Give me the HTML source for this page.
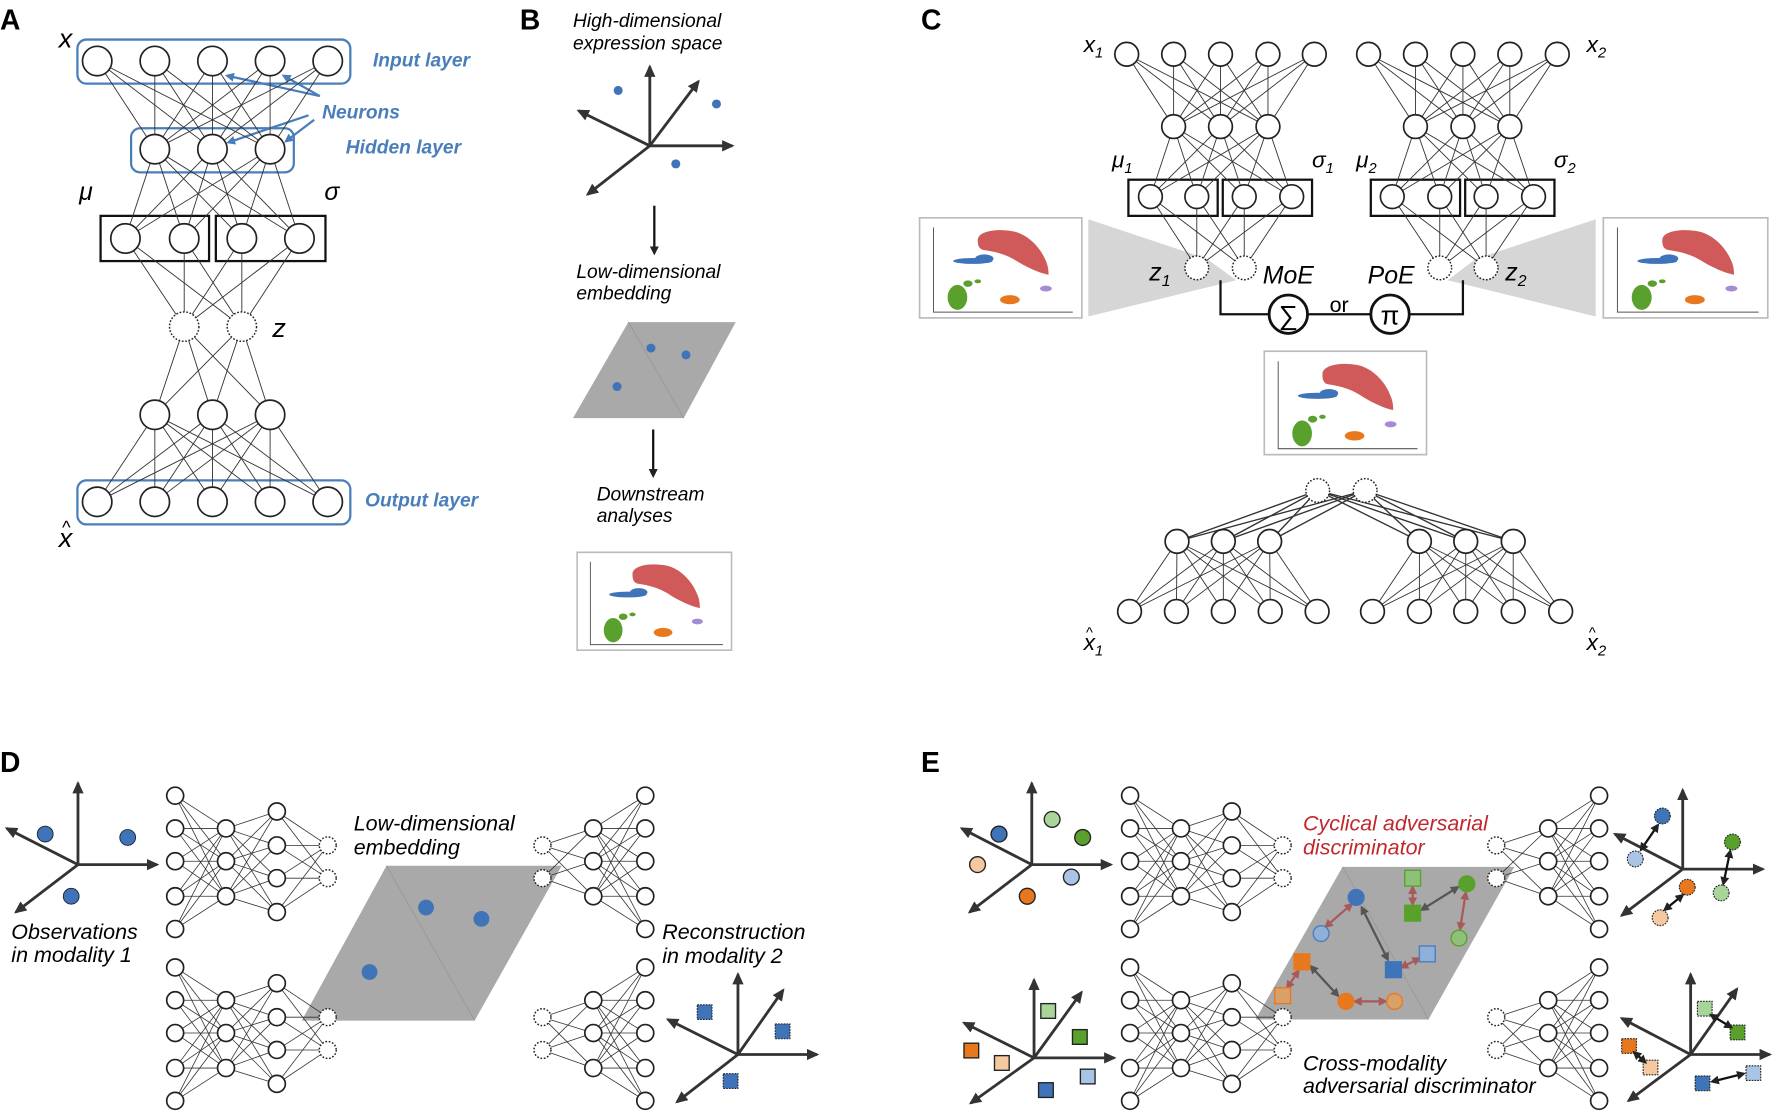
<!DOCTYPE html>
<html><head><meta charset="utf-8"><style>
html,body{margin:0;padding:0;background:#fff;}
svg{display:block;}
text{font-family:"Liberation Sans",Arial,sans-serif;}
.it{font-style:italic;}
.bl{fill:#4a7ebb;font-weight:bold;font-style:italic;font-size:17px;}
.pl{font-weight:bold;font-size:25px;}
</style></head><body>
<svg id="s" xmlns="http://www.w3.org/2000/svg" width="1772" height="1111" viewBox="0 0 1568 983" preserveAspectRatio="none">
<defs>
<marker id="ah" markerUnits="userSpaceOnUse" markerWidth="12" markerHeight="10" refX="9" refY="5" orient="auto-start-reverse"><path d="M0,0 L11,5 L0,10 z" fill="#333"/></marker>
<marker id="ahs" markerUnits="userSpaceOnUse" markerWidth="8" markerHeight="8" refX="6" refY="4" orient="auto-start-reverse"><path d="M0,0 L8,4 L0,8 z" fill="#222"/></marker>
<marker id="ahr" markerUnits="userSpaceOnUse" markerWidth="8" markerHeight="8" refX="6" refY="4" orient="auto-start-reverse"><path d="M0,0 L8,4 L0,8 z" fill="#a85a5a"/></marker>
<marker id="ahg" markerUnits="userSpaceOnUse" markerWidth="8" markerHeight="8" refX="6" refY="4" orient="auto-start-reverse"><path d="M0,0 L8,4 L0,8 z" fill="#555"/></marker>
<marker id="ahb" markerUnits="userSpaceOnUse" markerWidth="8" markerHeight="8" refX="6" refY="4" orient="auto-start-reverse"><path d="M0,0 L8,4 L0,8 z" fill="#4a7ebb"/></marker>
<symbol id="umap" viewBox="0 0 500 310" preserveAspectRatio="none">
<rect x="0" y="0" width="500" height="310" fill="#fff" stroke="#bbb" stroke-width="10"/>
<path d="M45,32 L45,290 L470,290" fill="none" stroke="#555" stroke-width="3"/>
<path d="M180,72 C178,42 240,34 290,44 C335,54 372,95 386,130 C396,150 396,168 396,176 C372,172 332,155 300,135 C262,110 222,104 196,100 C182,96 180,84 180,72Z" fill="#d05a5a"/>
<ellipse cx="165" cy="134" rx="60" ry="9" fill="#3f74b8"/>
<ellipse cx="200" cy="127" rx="28" ry="13" fill="#3f74b8"/>
<ellipse cx="118" cy="245" rx="30" ry="38" fill="#5aa02c"/>
<ellipse cx="150" cy="203" rx="14" ry="10" fill="#5aa02c"/>
<ellipse cx="180" cy="196" rx="10" ry="6" fill="#5aa02c"/>
<ellipse cx="278" cy="252" rx="30" ry="14" fill="#e8781e"/>
<ellipse cx="388" cy="218" rx="18" ry="9" fill="#a58ad6"/>
</symbol>
</defs>

<!-- Panel letters -->
<text class="pl" x="0" y="26">A</text>
<text class="pl" x="460" y="26">B</text>
<text class="pl" x="815" y="26">C</text>
<text class="pl" x="0" y="683">D</text>
<text class="pl" x="815" y="683">E</text>

<!-- Panel A boxes and labels -->
<rect x="68.5" y="35" width="241.5" height="39" rx="8" fill="none" stroke="#4a7ebb" stroke-width="2"/>
<rect x="116" y="113.5" width="144" height="39" rx="8" fill="none" stroke="#4a7ebb" stroke-width="2"/>
<rect x="68.5" y="425" width="241.5" height="39" rx="8" fill="none" stroke="#4a7ebb" stroke-width="2"/>
<rect x="89" y="191" width="96" height="40" fill="none" stroke="#111" stroke-width="2"/>
<rect x="191" y="191" width="97" height="40" fill="none" stroke="#111" stroke-width="2"/>
<text class="bl" x="330" y="59">Input layer</text>
<text class="bl" x="285" y="105">Neurons</text>
<text class="bl" x="306" y="136">Hidden layer</text>
<text class="bl" x="323" y="448">Output layer</text>
<g stroke="#4a7ebb" stroke-width="2" fill="none">
<line x1="283" y1="85" x2="201" y2="67" marker-end="url(#ahb)"/>
<line x1="283" y1="85" x2="251" y2="67" marker-end="url(#ahb)"/>
<line x1="273" y1="102" x2="202" y2="126" marker-end="url(#ahb)"/>
<line x1="278" y1="106" x2="253" y2="125" marker-end="url(#ahb)"/>
</g>
<text class="it" x="52" y="42" font-size="24">x</text>
<text class="it" x="52" y="484" font-size="24">x</text>
<text x="55" y="472" font-size="16">^</text>
<text class="it" x="70" y="177" font-size="22">μ</text>
<text class="it" x="287" y="177" font-size="22">σ</text>
<text class="it" x="241" y="298" font-size="24">z</text>

<!-- Panel B -->
<text class="it" x="507" y="24" font-size="17">High-dimensional</text>
<text class="it" x="507" y="44" font-size="17">expression space</text>
<g stroke="#333" stroke-width="2.5" fill="none">
<line x1="575" y1="129" x2="575" y2="59" marker-end="url(#ah)"/>
<line x1="575" y1="129" x2="648" y2="129" marker-end="url(#ah)"/>
<line x1="575" y1="129" x2="618" y2="72" marker-end="url(#ah)"/>
<line x1="575" y1="129" x2="512" y2="98" marker-end="url(#ah)"/>
<line x1="575" y1="129" x2="520" y2="172" marker-end="url(#ah)"/>
</g>
<g fill="#3f74b8"><circle cx="547" cy="80" r="4"/><circle cx="634" cy="92" r="4"/><circle cx="598" cy="145" r="4"/></g>
<line x1="579" y1="182" x2="579" y2="224" stroke="#111" stroke-width="2" marker-end="url(#ahs)"/>
<text class="it" x="510" y="246" font-size="17">Low-dimensional</text>
<text class="it" x="510" y="265" font-size="17">embedding</text>
<polygon points="556,285 651,285 605,370 507,370" fill="#a9a9a9"/>
<line x1="556" y1="285" x2="605" y2="370" stroke="#999" stroke-width="0.8"/>
<g fill="#3f74b8"><circle cx="576" cy="308" r="4"/><circle cx="607" cy="314" r="4"/><circle cx="546" cy="342" r="4"/></g>
<line x1="578" y1="380" x2="578" y2="421" stroke="#111" stroke-width="2" marker-end="url(#ahs)"/>
<text class="it" x="528" y="443" font-size="17">Downstream</text>
<text class="it" x="528" y="462" font-size="17">analyses</text>
<use href="#umap" x="510" y="488" width="138" height="88"/>

<!-- Panel C extras -->
<polygon points="963,194 1068,229 1094,248 963,280" fill="#d6d6d6"/>
<polygon points="1412,194 1306,229 1281,248 1412,280" fill="#d6d6d6"/>
<use href="#umap" x="813" y="192" width="145" height="90"/>
<use href="#umap" x="1418" y="192" width="147" height="90"/>
<use href="#umap" x="1118" y="310" width="145" height="93"/>
<rect x="998.5" y="159" width="79" height="32" fill="none" stroke="#111" stroke-width="2"/>
<rect x="1082" y="159" width="79" height="32" fill="none" stroke="#111" stroke-width="2"/>
<rect x="1213" y="159" width="79" height="32" fill="none" stroke="#111" stroke-width="2"/>
<rect x="1296.5" y="159" width="79" height="32" fill="none" stroke="#111" stroke-width="2"/>
<path d="M1080,248 L1080,278 L1123,278 M1157,278 L1213,278 M1247,278 L1294.5,278 L1294.5,248" fill="none" stroke="#111" stroke-width="2"/>
<circle cx="1140" cy="278" r="17" fill="#fff" stroke="#111" stroke-width="2.5"/>
<circle cx="1230" cy="278" r="17" fill="#fff" stroke="#111" stroke-width="2.5"/>
<text x="1140" y="287" font-size="24" text-anchor="middle">∑</text>
<text x="1230" y="287" font-size="24" text-anchor="middle">π</text>
<text x="1185" y="276" font-size="19" text-anchor="middle">or</text>
<text class="it" x="1140" y="251" font-size="22" text-anchor="middle">MoE</text>
<text class="it" x="1231" y="251" font-size="22" text-anchor="middle">PoE</text>
<text class="it" x="959" y="46" font-size="20">x<tspan font-size="13" dy="5">1</tspan></text>
<text class="it" x="1404" y="46" font-size="20">x<tspan font-size="13" dy="5">2</tspan></text>
<text class="it" x="984" y="148" font-size="20">μ<tspan font-size="13" dy="5">1</tspan></text>
<text class="it" x="1161" y="148" font-size="20">σ<tspan font-size="13" dy="5">1</tspan></text>
<text class="it" x="1200" y="148" font-size="20">μ<tspan font-size="13" dy="5">2</tspan></text>
<text class="it" x="1375" y="148" font-size="20">σ<tspan font-size="13" dy="5">2</tspan></text>
<text class="it" x="1017" y="248" font-size="22">z<tspan font-size="14" dy="5">1</tspan></text>
<text class="it" x="1332" y="248" font-size="22">z<tspan font-size="14" dy="5">2</tspan></text>
<text class="it" x="959" y="575" font-size="20">x<tspan font-size="13" dy="5">1</tspan></text>
<text x="961" y="564" font-size="13">^</text>
<text class="it" x="1404" y="575" font-size="20">x<tspan font-size="13" dy="5">2</tspan></text>
<text x="1406" y="564" font-size="13">^</text>

<!-- Panel D -->
<g stroke="#333" stroke-width="2.5" fill="none">
<line x1="69" y1="765" x2="69" y2="693" marker-end="url(#ah)"/>
<line x1="69" y1="765" x2="139" y2="765" marker-end="url(#ah)"/>
<line x1="69" y1="765" x2="6" y2="733" marker-end="url(#ah)"/>
<line x1="69" y1="765" x2="14" y2="807" marker-end="url(#ah)"/>
<line x1="653" y1="933" x2="653" y2="862" marker-end="url(#ah)"/>
<line x1="653" y1="933" x2="723" y2="933" marker-end="url(#ah)"/>
<line x1="653" y1="933" x2="693" y2="876" marker-end="url(#ah)"/>
<line x1="653" y1="933" x2="591" y2="902" marker-end="url(#ah)"/>
<line x1="653" y1="933" x2="599" y2="975" marker-end="url(#ah)"/>
</g>
<g fill="#3f74b8" stroke="#223" stroke-width="0.8"><ellipse cx="40" cy="738" rx="7" ry="7"/><ellipse cx="113" cy="741" rx="7" ry="7"/><ellipse cx="63" cy="793" rx="7" ry="7"/></g>
<g fill="#3f74b8" stroke="#223" stroke-width="1" stroke-dasharray="1.5,1"><rect x="617" y="889" width="13" height="13"/><rect x="686" y="906" width="13" height="13"/><rect x="640" y="950" width="13" height="13"/></g>
<polygon points="342,766 497,766 420,903 267,903" fill="#a9a9a9"/>
<line x1="342" y1="766" x2="420" y2="903" stroke="#999" stroke-width="0.8"/>
<g fill="#3f74b8"><ellipse cx="377" cy="803" rx="7" ry="7"/><ellipse cx="426" cy="813" rx="7" ry="7"/><ellipse cx="327" cy="860" rx="7" ry="7"/></g>
<text class="it" x="313" y="735" font-size="19">Low-dimensional</text>
<text class="it" x="313" y="756" font-size="19">embedding</text>
<text class="it" x="10" y="831" font-size="19">Observations</text>
<text class="it" x="10" y="851" font-size="19">in modality 1</text>
<text class="it" x="586" y="831" font-size="19">Reconstruction</text>
<text class="it" x="586" y="852" font-size="19">in modality 2</text>

<!-- Panel E -->
<g stroke="#333" stroke-width="2.5" fill="none">
<line x1="913" y1="765" x2="913" y2="693" marker-end="url(#ah)"/>
<line x1="913" y1="765" x2="983" y2="765" marker-end="url(#ah)"/>
<line x1="913" y1="765" x2="851" y2="733" marker-end="url(#ah)"/>
<line x1="913" y1="765" x2="858" y2="807" marker-end="url(#ah)"/>
<line x1="915" y1="936" x2="915" y2="867" marker-end="url(#ah)"/>
<line x1="915" y1="936" x2="986" y2="936" marker-end="url(#ah)"/>
<line x1="915" y1="936" x2="957" y2="878" marker-end="url(#ah)"/>
<line x1="915" y1="936" x2="853" y2="905" marker-end="url(#ah)"/>
<line x1="915" y1="936" x2="859" y2="976" marker-end="url(#ah)"/>
<line x1="1489" y1="769" x2="1489" y2="699" marker-end="url(#ah)"/>
<line x1="1489" y1="769" x2="1560" y2="769" marker-end="url(#ah)"/>
<line x1="1489" y1="769" x2="1429" y2="738" marker-end="url(#ah)"/>
<line x1="1489" y1="769" x2="1435" y2="810" marker-end="url(#ah)"/>
<line x1="1496" y1="933" x2="1496" y2="862" marker-end="url(#ah)"/>
<line x1="1496" y1="933" x2="1566" y2="933" marker-end="url(#ah)"/>
<line x1="1496" y1="933" x2="1537" y2="875" marker-end="url(#ah)"/>
<line x1="1496" y1="933" x2="1435" y2="901" marker-end="url(#ah)"/>
<line x1="1496" y1="933" x2="1441" y2="974" marker-end="url(#ah)"/>
</g>
<g stroke="#222" stroke-width="1.2">
<circle cx="931" cy="725" r="7" fill="#a9d59a"/><circle cx="884" cy="738" r="7" fill="#3f74b8"/>
<circle cx="958" cy="741" r="7" fill="#5aa02c"/><circle cx="865" cy="765" r="7" fill="#f5c9a0"/>
<circle cx="948" cy="776" r="7" fill="#a9c4e4"/><circle cx="909" cy="793" r="7" fill="#e8781e"/>
<rect x="921" y="888" width="13" height="13" fill="#a9d59a"/><rect x="949" y="911" width="13" height="13" fill="#5aa02c"/>
<rect x="853" y="923" width="13" height="13" fill="#e8781e"/><rect x="880" y="934" width="13" height="13" fill="#f5c9a0"/>
<rect x="956" y="946" width="13" height="13" fill="#a9c4e4"/><rect x="919" y="958" width="13" height="13" fill="#3f74b8"/>
</g>
<g stroke="#222" stroke-width="1" stroke-dasharray="1.5,1">
<circle cx="1471" cy="722" r="7" fill="#3f74b8"/><circle cx="1447" cy="760" r="7" fill="#a9c4e4"/>
<circle cx="1533" cy="745" r="7" fill="#5aa02c"/><circle cx="1523" cy="790" r="7" fill="#a9d59a"/>
<circle cx="1493" cy="785" r="7" fill="#e8781e"/><circle cx="1469" cy="812" r="7" fill="#f5c9a0"/>
<rect x="1502" y="886" width="13" height="13" fill="#a9d59a"/><rect x="1531" y="907" width="13" height="13" fill="#5aa02c"/>
<rect x="1435" y="919" width="13" height="13" fill="#e8781e"/><rect x="1454" y="938" width="13" height="13" fill="#f5c9a0"/>
<rect x="1500" y="952" width="13" height="13" fill="#3f74b8"/><rect x="1545" y="943" width="13" height="13" fill="#a9c4e4"/>
</g>
<g stroke="#111" stroke-width="2" fill="none">
<line x1="1467" y1="730" x2="1452" y2="752" marker-start="url(#ahs)" marker-end="url(#ahs)"/>
<line x1="1531" y1="753" x2="1525" y2="782" marker-start="url(#ahs)" marker-end="url(#ahs)"/>
<line x1="1489" y1="792" x2="1473" y2="805" marker-start="url(#ahs)" marker-end="url(#ahs)"/>
<line x1="1514" y1="898" x2="1532" y2="909" marker-start="url(#ahs)" marker-end="url(#ahs)"/>
<line x1="1446" y1="931" x2="1456" y2="940" marker-start="url(#ahs)" marker-end="url(#ahs)"/>
<line x1="1515" y1="957" x2="1543" y2="950" marker-start="url(#ahs)" marker-end="url(#ahs)"/>
</g>
<polygon points="1188,767 1340,767 1264,902 1111,902" fill="#a9a9a9"/>
<line x1="1188" y1="767" x2="1264" y2="902" stroke="#999" stroke-width="0.8"/>
<g stroke-width="2" fill="none">
<line x1="1196" y1="800" x2="1173" y2="820" stroke="#a85a5a" marker-start="url(#ahr)" marker-end="url(#ahr)"/>
<line x1="1250" y1="785" x2="1250" y2="800" stroke="#a85a5a" marker-start="url(#ahr)" marker-end="url(#ahr)"/>
<line x1="1297" y1="790" x2="1292" y2="822" stroke="#a85a5a" marker-start="url(#ahr)" marker-end="url(#ahr)"/>
<line x1="1240" y1="856" x2="1256" y2="848" stroke="#a85a5a" marker-start="url(#ahr)" marker-end="url(#ahr)"/>
<line x1="1149" y1="859" x2="1139" y2="874" stroke="#a85a5a" marker-start="url(#ahr)" marker-end="url(#ahr)"/>
<line x1="1199" y1="886" x2="1226" y2="886" stroke="#a85a5a" marker-start="url(#ahr)" marker-end="url(#ahr)"/>
<line x1="1205" y1="803" x2="1228" y2="849" stroke="#555" marker-start="url(#ahg)" marker-end="url(#ahg)"/>
<line x1="1258" y1="805" x2="1290" y2="785" stroke="#555" marker-start="url(#ahg)" marker-end="url(#ahg)"/>
<line x1="1160" y1="855" x2="1184" y2="881" stroke="#555" marker-start="url(#ahg)" marker-end="url(#ahg)"/>
</g>
<g stroke-width="1.2">
<circle cx="1200" cy="794" r="7" fill="#3f74b8" stroke="#3f74b8"/>
<circle cx="1169" cy="826" r="7" fill="#8fb0d8" stroke="#4a7ebb"/>
<rect x="1243" y="770" width="14" height="14" fill="#8fc07a" stroke="#5aa02c"/>
<rect x="1243" y="801" width="14" height="14" fill="#5aa02c" stroke="#5aa02c"/>
<circle cx="1298" cy="782" r="7" fill="#5aa02c" stroke="#5aa02c"/>
<circle cx="1291" cy="830" r="7" fill="#8fc07a" stroke="#5aa02c"/>
<rect x="1145" y="844" width="14" height="14" fill="#e8781e" stroke="#e8781e"/>
<rect x="1128" y="874" width="14" height="14" fill="#d9a06a" stroke="#e8781e"/>
<rect x="1226" y="851" width="14" height="14" fill="#3f74b8" stroke="#3f74b8"/>
<rect x="1256" y="837" width="14" height="14" fill="#8fb0d8" stroke="#4a7ebb"/>
<circle cx="1191" cy="886" r="7" fill="#e8781e" stroke="#e8781e"/>
<circle cx="1234" cy="886" r="7" fill="#d9a06a" stroke="#e8781e"/>
</g>
<text class="it" x="1153" y="735" font-size="19" fill="#c0282d">Cyclical adversarial</text>
<text class="it" x="1153" y="756" font-size="19" fill="#c0282d">discriminator</text>
<text class="it" x="1153" y="947" font-size="19">Cross-modality</text>
<text class="it" x="1153" y="967" font-size="19">adversarial discriminator</text>
<g id="nets"></g>
</svg>
<script>
(function(){
var NS="http://www.w3.org/2000/svg";
var nets=document.getElementById("nets");
var lg=document.createElementNS(NS,"g"), ng=document.createElementNS(NS,"g");
nets.appendChild(lg);nets.appendChild(ng);
function L(a,b,w){var l=document.createElementNS(NS,"line");l.setAttribute("x1",a[0]);l.setAttribute("y1",a[1]);l.setAttribute("x2",b[0]);l.setAttribute("y2",b[1]);l.setAttribute("stroke","#333");l.setAttribute("stroke-width",w||0.8);lg.appendChild(l);}
function N(p,r,d){var c=document.createElementNS(NS,"circle");c.setAttribute("cx",p[0]);c.setAttribute("cy",p[1]);c.setAttribute("r",r);c.setAttribute("fill","#fff");c.setAttribute("stroke","#222");c.setAttribute("stroke-width",d?1.3:1.5);if(d)c.setAttribute("stroke-dasharray","1.5,1.5");ng.appendChild(c);}
function lay(xs,y){return xs.map(function(x){return [x,y];});}
function col(x,ys){return ys.map(function(y){return [x,y];});}
function full(A,B,w){A.forEach(function(a){B.forEach(function(b){L(a,b,w);});});}
function net(layers,r,dashedIdx,w){for(var i=0;i<layers.length-1;i++)full(layers[i],layers[i+1],w);
 layers.forEach(function(l,i){l.forEach(function(p){N(p,r,dashedIdx.indexOf(i)>=0);});});}
net([lay([86,137,188,239,290],54),lay([137,188,239],132),lay([111,163,214,265],211),lay([163,214],289),lay([137,188,239],367),lay([86,137,188,239,290],444)],13,[3],0.8);
net([lay([997,1038.5,1080,1122,1163],48),lay([1038.5,1080,1122],112),lay([1018,1059,1101,1143],174),lay([1059,1101],237)],10.5,[3],0.8);
net([lay([1211,1252.5,1294.5,1336,1378],48),lay([1252.5,1294.5,1336],112),lay([1232,1274,1315,1357],174),lay([1274,1315],237)],10.5,[3],0.8);
var z=lay([1166,1208],434),hl=lay([1041.5,1082.5,1123.5],479),hr=lay([1256,1297,1339],479);
var ol=lay([999.5,1041,1082.5,1124,1165.5],541),orr=lay([1214.5,1256,1297,1339,1381],541);
full(z,hl,1.2);full(z,hr,1.2);full(hl,ol);full(hr,orr);
z.forEach(function(p){N(p,10.5,true);});[hl,hr,ol,orr].forEach(function(l){l.forEach(function(p){N(p,10.5,false);});});
function enc(xs,off){var c1=col(xs[0],[704,733,762,793,822].map(function(y){return y+off;})),
 c2=col(xs[1],[733,762,793].map(function(y){return y+off;})),
 c3=col(xs[2],[718,748,777,807].map(function(y){return y+off;})),
 c4=col(xs[3],[748,777].map(function(y){return y+off;}));
 net([c1,c2,c3,c4],7.5,[3],0.7);}
function dec(xs,off){var c1=col(xs[0],[748,777].map(function(y){return y+off;})),
 c2=col(xs[1],[733,762,793].map(function(y){return y+off;})),
 c3=col(xs[2],[704,733,762,793,822].map(function(y){return y+off;}));
 net([c1,c2,c3],7.5,[0],0.7);}
enc([155,200,245,290],0);enc([155,200,245,290],152);
dec([480,525,571],0);dec([480,525,571],152);
enc([1000,1045,1090,1135],0);enc([1000,1045,1090,1135],152);
dec([1324,1370,1415],0);dec([1324,1370,1415],152);
})();
</script>
</body></html>
